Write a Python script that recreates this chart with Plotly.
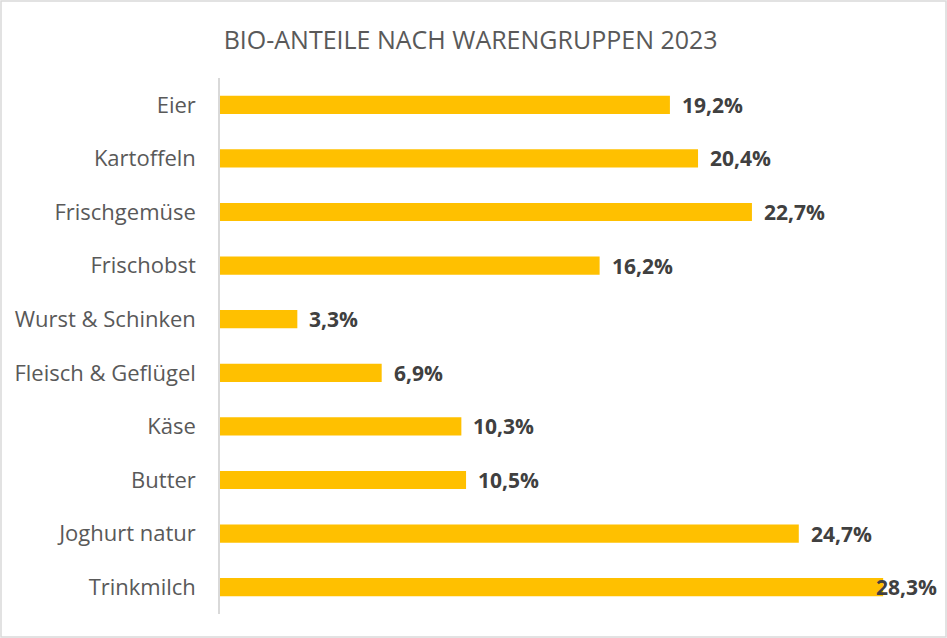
import plotly.graph_objects as go

categories = ["Eier", "Kartoffeln", "Frischgemüse", "Frischobst", "Wurst & Schinken",
              "Fleisch & Geflügel", "Käse", "Butter", "Joghurt natur", "Trinkmilch"]
values = [19.2, 20.4, 22.7, 16.2, 3.3, 6.9, 10.3, 10.5, 24.7, 28.3]
labels = [f"{v:.1f}%".replace(".", ",") for v in values]

W, H = 947, 638
L, R, T, B = 220, 24, 78, 24
XMAX = 30
pw, ph = W - L - R, H - T - B
LBL_FONT = dict(family="Open Sans", size=21, color="#404040", weight="bold")

fig = go.Figure(go.Bar(
    x=values, y=categories, orientation="h",
    marker=dict(color="#FFC000", line=dict(width=0)),
    width=0.34, hoverinfo="skip",
))

annotations = []
for c, v, t in zip(categories, values, labels):
    # label would overflow chart -> pulled back inside like Excel does
    if (v / XMAX) * pw + 12 + 62 > pw + R:
        annotations.append(dict(x=v, y=c, xref="x", yref="y", text=t, showarrow=False,
                                xanchor="right", xshift=56, font=LBL_FONT))
    else:
        annotations.append(dict(x=v, y=c, xref="x", yref="y", text=t, showarrow=False,
                                xanchor="left", xshift=10, font=LBL_FONT))

fig.update_layout(
    width=W, height=H,
    margin=dict(l=L, r=R, t=T, b=B),
    paper_bgcolor="white", plot_bgcolor="white",
    title=dict(text="BIO-ANTEILE NACH WARENGRUPPEN 2023", x=0.497, xref="container",
               xanchor="center", y=1 - 40 / H, yanchor="middle",
               font=dict(family="Open Sans", size=25, color="#595959")),
    xaxis=dict(range=[0, XMAX], visible=False, fixedrange=True),
    yaxis=dict(autorange="reversed", showline=True, linecolor="#d9d9d9", linewidth=1.5,
               ticks="", showgrid=False, ticklabelstandoff=18, fixedrange=True,
               tickfont=dict(family="Open Sans", size=22, color="#595959")),
    showlegend=False,
    annotations=annotations,
    shapes=[dict(type="rect", xref="paper", yref="paper",
                 x0=(1 - L) / pw, x1=(W - 1 - L) / pw,
                 y0=-(B - 1) / ph, y1=1 + (T - 1) / ph,
                 line=dict(color="#d9d9d9", width=1.5), fillcolor="rgba(0,0,0,0)", layer="below")],
)

fig.write_html("out.html", config={"displayModeBar": False},
               post_script="document.body.style.margin='0';document.body.style.padding='0';")
